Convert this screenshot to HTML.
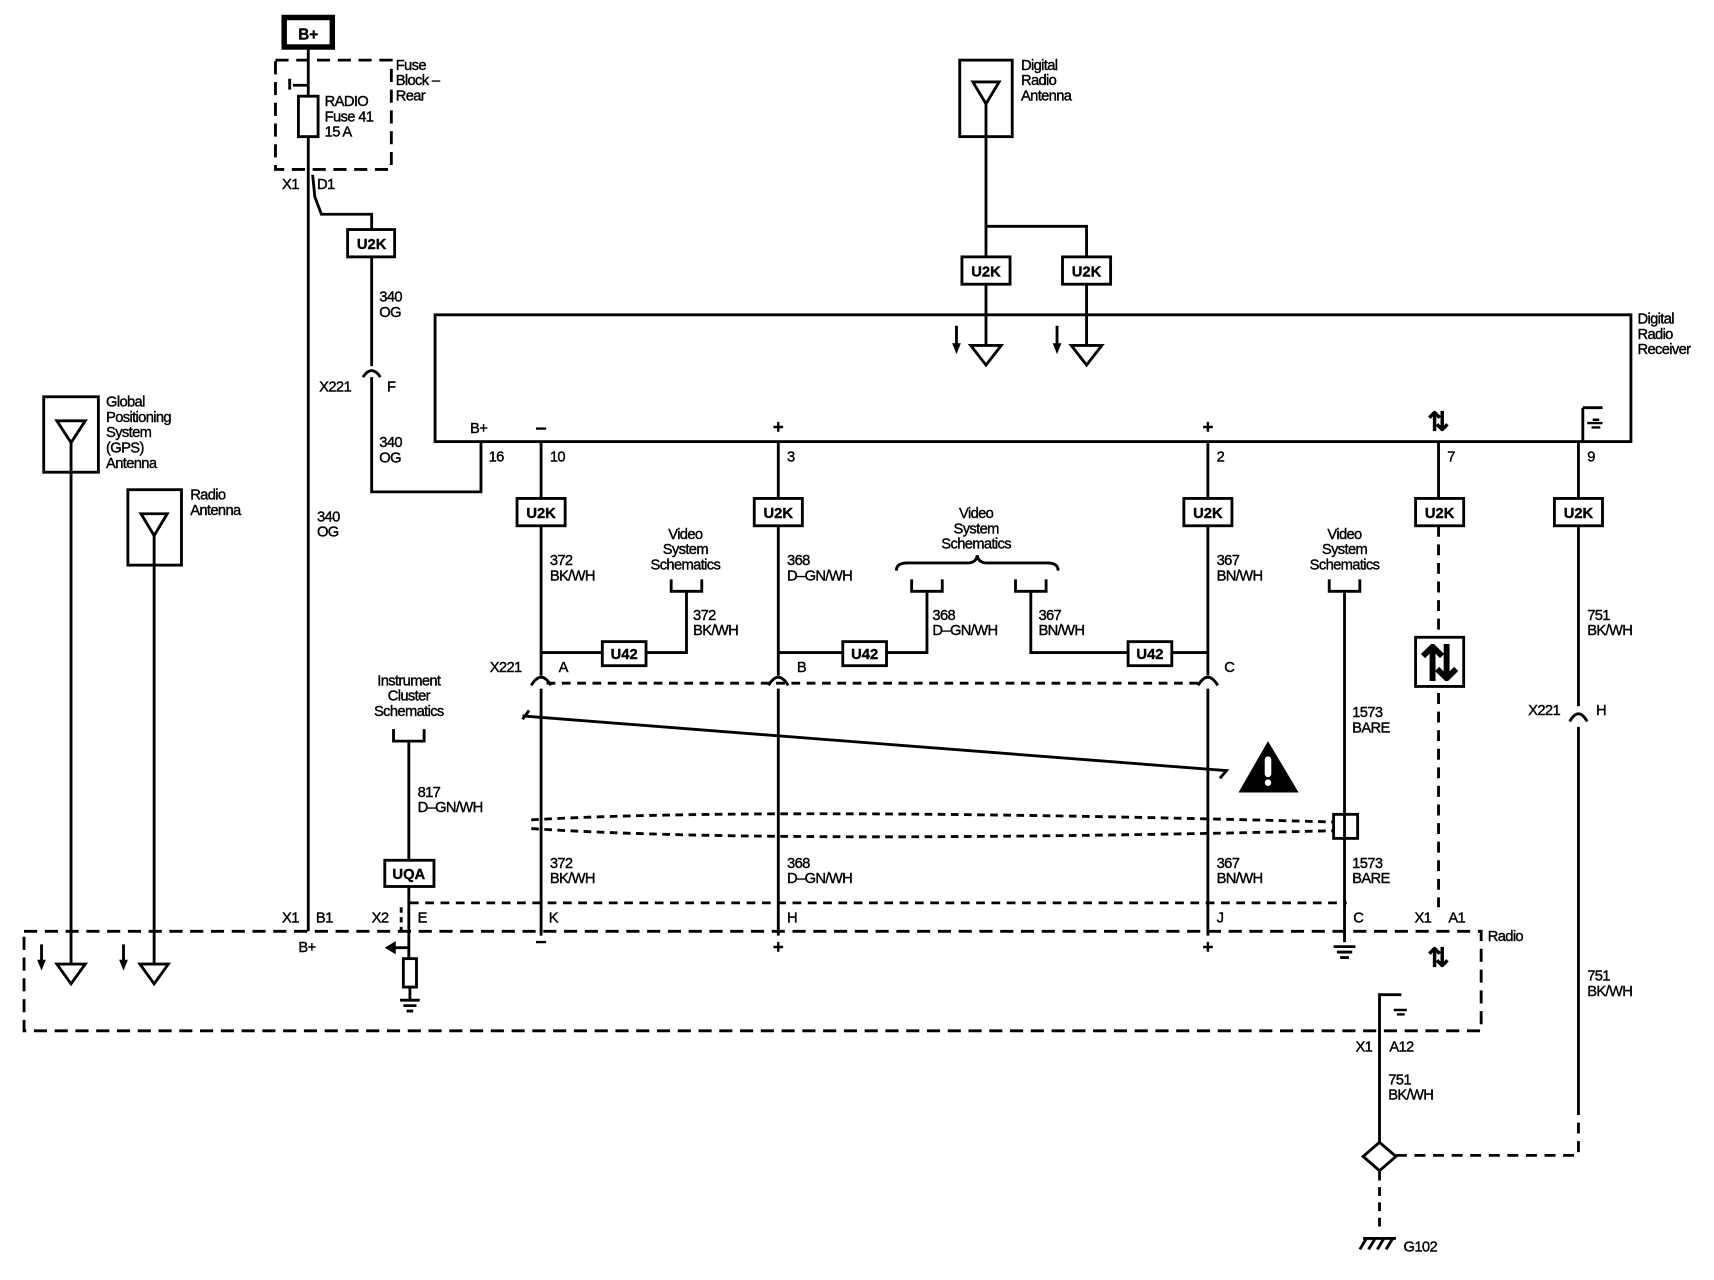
<!DOCTYPE html>
<html><head><meta charset="utf-8"><style>
html,body{margin:0;padding:0;background:#fff;}
svg{display:block;}
text{font-family:"Liberation Sans",sans-serif;font-size:13.5px;fill:#000;stroke:#000;stroke-width:0.35px;}
</style></head><body>
<svg width="1714" height="1280" viewBox="0 0 1568 1171" preserveAspectRatio="none" xmlns="http://www.w3.org/2000/svg">
<g stroke="#000" stroke-width="2.6" fill="none">
<rect x="260" y="16" width="44" height="27" stroke-width="5"/>
<rect x="252" y="55" width="106" height="100" stroke-dasharray="12,7"/>
<line x1="282" y1="43" x2="282" y2="852"/>
<rect x="273" y="88" width="18" height="37" fill="#fff"/>
<path d="M282 78 H268 M265 72 V82"/>
<path d="M286 160 L288 180 L294 196 H340 V210"/>
<rect x="318" y="210" width="43" height="25"/>
<line x1="340" y1="235" x2="340" y2="335"/>
<path d="M332 345 Q340 333 348 345"/>
<path d="M340 345 V450 H440 V404"/>
<rect x="398" y="288" width="1094" height="116"/>
<rect x="878" y="55" width="48" height="70"/>
<path d="M890 75 H914 L902 95 Z M902 95 V125"/>
<path d="M902 125 V235 M902 207 H994 V235"/>
<rect x="880" y="235" width="44" height="25"/>
<rect x="972" y="235" width="44" height="25"/>
<path d="M902 260 V316 M888 316 H916 L902 334 Z"/>
<path d="M994 260 V316 M980 316 H1008 L994 334 Z"/>
<path d="M875 298 V316 M967 298 V316 M38 864 V880 M113 864 V880"/>
<path d="M495 404 V456 M712 404 V456 M1105 404 V456 M1316 404 V456 M1444 404 V456 M1448 373 V404 M1448 373 H1466"/>
<rect x="473" y="456" width="44" height="25"/>
<rect x="690" y="456" width="44" height="25"/>
<rect x="1083" y="456" width="44" height="25"/>
<rect x="1295" y="456" width="44" height="25"/>
<rect x="1422" y="456" width="44" height="25"/>
<path d="M495 481 V618 M495 630 V856"/>
<path d="M712 481 V618 M712 630 V856"/>
<path d="M1105 481 V618 M1105 630 V856"/>
<path d="M486 627 Q495 612 504 627 M703 627 Q712 612 721 627 M1096 627 Q1105 612 1114 627"/>
<path d="M495 597 H551 M591 597 H628 V541 M614 530 V541 H642 V530"/>
<rect x="551" y="587" width="40" height="22"/>
<path d="M712 597 H771 M811 597 H848 V541 M834 530 V541 H862 V530"/>
<rect x="771" y="587" width="40" height="22"/>
<path d="M1105 597 H1072 M1032 597 H943 V541 M929 530 V541 H957 V530"/>
<rect x="1032" y="587" width="40" height="22"/>
<path d="M820 522 Q820 515 830 515 H885 Q893 515 894 508 Q895 515 903 515 H958 Q968 515 968 522"/>
<path d="M500 625 H1100" stroke-dasharray="8,6"/>
<path d="M1216 530 V541 H1244 V530 M1230 541 V862"/>
<rect x="1220" y="745" width="22" height="22"/>
<path d="M478 658 L484 650 M478 655 L1122 705 L1116 712"/>
<path d="M486 750 Q700 738 1220 752 M486 758 Q700 772 1220 760" stroke-dasharray="7,5"/>
<path d="M1316 481 V830" stroke-dasharray="10,7"/>
<rect x="1295" y="583" width="44" height="45" fill="#fff"/>
<path d="M1444 481 V646 M1436 660 Q1444 646 1452 660 M1444 665 V1010"/>
<path d="M1444 1010 V1057 H1275" stroke-dasharray="10,7"/>
<rect x="22" y="852" width="1333" height="91" stroke-dasharray="12,7"/>
<path d="M375 826 H1232" stroke-dasharray="8,6"/>
<path d="M367 830 V852" stroke-dasharray="5,4"/>
<rect x="40" y="363" width="50" height="69"/>
<path d="M52 385 H78 L65 405 Z M65 405 V882 M52 882 H78 L65 900 Z"/>
<rect x="117" y="448" width="49" height="69"/>
<path d="M129 470 H153 L141 490 Z M141 490 V882 M128 882 H154 L141 900 Z"/>
<path d="M360 667 V678 H388 V667 M374 678 V788 M374 811 V877"/>
<rect x="352" y="787" width="45" height="24"/>
<path d="M374 867 H358"/>
<rect x="369" y="877" width="12" height="26"/>
<path d="M375 903 V915 M366 915 H384 M369 920 H381 M372 925 H378"/>
<path d="M1220 866 H1240 M1223 871 H1237 M1226 876 H1234"/>
<path d="M1262 1045 V910 H1282"/>
<path d="M1262 1072 V1128" stroke-dasharray="8,6"/>
<path d="M1247 1133 H1277 M1250 1133 L1244 1143 M1258 1133 L1252 1143 M1266 1133 L1260 1143 M1274 1133 L1268 1143"/>
</g>
<g fill="#000">
<polygon points="871,314 879,314 875,324"/><polygon points="963,314 971,314 967,324"/>
<polygon points="34,878 42,878 38,888"/><polygon points="109,878 117,878 113,888"/>
</g>
<polygon points="1262,1045 1277,1058 1262,1071 1247,1058" fill="#fff" stroke="#000" stroke-width="2.6"/>
<polygon points="352,867 362,861 362,873" fill="#000"/>
<polygon points="1160,678 1133,725 1188,725" fill="#000"/>
<rect x="1157" y="692" width="6" height="19" rx="3" fill="#fff"/>
<circle cx="1160" cy="716" r="3" fill="#fff"/>
<g stroke="#000" stroke-width="2.2" fill="none">
<path d="M1457 384 H1463 M1452 387 H1466 M1456 391 H1464 M1275 924 H1287 M1278 928 H1285"/>
</g>
<g text-anchor="middle" font-family="DejaVu Sans" style="font-weight:bold">
<text x="1316" y="394" style="font-size:24px">⇅</text>
<text x="1317" y="622" style="font-size:44px">⇅</text>
<text x="1316" y="884" style="font-size:24px">⇅</text>
</g>
<g text-anchor="middle" style="font-weight:bold">
<text x="282" y="36" style="font-size:14px">B+</text>
<text x="340" y="228">U2K</text>
<text x="902" y="253">U2K</text><text x="994" y="253">U2K</text>
<text x="495" y="474">U2K</text><text x="712" y="474">U2K</text><text x="1105" y="474">U2K</text><text x="1317" y="474">U2K</text><text x="1444" y="474">U2K</text>
<text x="571" y="603">U42</text><text x="791" y="603">U42</text><text x="1052" y="603">U42</text>
<text x="374" y="804">UQA</text>
<text x="495" y="397" style="font-size:18px">–</text><text x="712" y="396" style="font-size:17px">+</text><text x="1105" y="396" style="font-size:17px">+</text>
<text x="495" y="867" style="font-size:18px">–</text><text x="712" y="872" style="font-size:17px">+</text><text x="1105" y="872" style="font-size:17px">+</text>
</g>
<g style="letter-spacing:-0.6px">
<text x="362" y="64">Fuse</text><text x="362" y="78">Block –</text><text x="362" y="92">Rear</text>
<text x="297" y="97">RADIO</text><text x="297" y="111">Fuse 41</text><text x="297" y="125">15 A</text>
<text x="258" y="173">X1</text><text x="290" y="173">D1</text>
<text x="347" y="276">340</text><text x="347" y="290">OG</text>
<text x="292" y="358">X221</text><text x="354" y="358">F</text>
<text x="347" y="409">340</text><text x="347" y="423">OG</text>
<text x="290" y="477">340</text><text x="290" y="491">OG</text>
<text x="934" y="64">Digital</text><text x="934" y="78">Radio</text><text x="934" y="92">Antenna</text>
<text x="1498" y="296">Digital</text><text x="1498" y="310">Radio</text><text x="1498" y="324">Receiver</text>
<text x="430" y="396">B+</text><text x="447" y="422">16</text>
<text x="503" y="422">10</text><text x="720" y="422">3</text><text x="1113" y="422">2</text><text x="1324" y="422">7</text><text x="1452" y="422">9</text>
<text x="97" y="372">Global</text><text x="97" y="386">Positioning</text><text x="97" y="400">System</text><text x="97" y="414">(GPS)</text><text x="97" y="428">Antenna</text>
<text x="174" y="457">Radio</text><text x="174" y="471">Antenna</text>
<text x="503" y="517">372</text><text x="503" y="531">BK/WH</text>
<text x="720" y="517">368</text><text x="720" y="531">D–GN/WH</text>
<text x="1113" y="517">367</text><text x="1113" y="531">BN/WH</text>
<text x="634" y="567">372</text><text x="634" y="581">BK/WH</text>
<text x="853" y="567">368</text><text x="853" y="581">D–GN/WH</text>
<text x="950" y="567">367</text><text x="950" y="581">BN/WH</text>
<text x="1452" y="567">751</text><text x="1452" y="581">BK/WH</text>
<g text-anchor="middle">
<text x="627" y="493">Video</text><text x="627" y="507">System</text><text x="627" y="521">Schematics</text>
<text x="893" y="474">Video</text><text x="893" y="488">System</text><text x="893" y="502">Schematics</text>
<text x="1230" y="493">Video</text><text x="1230" y="507">System</text><text x="1230" y="521">Schematics</text>
<text x="374" y="627">Instrument</text><text x="374" y="641">Cluster</text><text x="374" y="655">Schematics</text>
</g>
<text x="448" y="615">X221</text><text x="511" y="615">A</text><text x="729" y="615">B</text><text x="1120" y="615">C</text>
<text x="1398" y="654">X221</text><text x="1460" y="654">H</text>
<text x="1237" y="656">1573</text><text x="1237" y="670">BARE</text>
<text x="382" y="729">817</text><text x="382" y="743">D–GN/WH</text>
<text x="503" y="794">372</text><text x="503" y="808">BK/WH</text>
<text x="720" y="794">368</text><text x="720" y="808">D–GN/WH</text>
<text x="1113" y="794">367</text><text x="1113" y="808">BN/WH</text>
<text x="1237" y="794">1573</text><text x="1237" y="808">BARE</text>
<text x="258" y="844">X1</text><text x="289" y="844">B1</text>
<text x="340" y="844">X2</text><text x="382" y="844">E</text>
<text x="502" y="844">K</text><text x="720" y="844">H</text><text x="1113" y="844">J</text><text x="1238" y="844">C</text>
<text x="1294" y="844">X1</text><text x="1325" y="844">A1</text>
<text x="1361" y="861">Radio</text>
<text x="273" y="871">B+</text>
<text x="1452" y="897">751</text><text x="1452" y="911">BK/WH</text>
<text x="1240" y="962">X1</text><text x="1271" y="962">A12</text>
<text x="1270" y="992">751</text><text x="1270" y="1006">BK/WH</text>
<text x="1284" y="1145">G102</text>
</g>
</svg>
</body></html>
